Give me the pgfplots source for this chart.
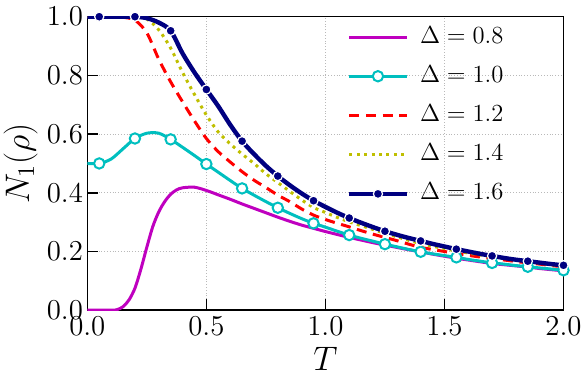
\RequirePackage{fix-cm}
\documentclass[border=0pt]{standalone}
\usepackage{pgfplots}
\usepackage{pgfplotstable}
\pgfplotsset{compat=1.18}

\definecolor{mag}{rgb}{0.75,0,0.75}
\definecolor{cyn}{rgb}{0,0.75,0.75}
\definecolor{ylw}{rgb}{0.75,0.75,0}
\definecolor{nvy}{rgb}{0,0,0.5}

% N_1(rho) against T, one column per Delta
\pgfplotstableread{
T     d10    d12    d14    d16
0.00  0.500  1.000  1.000  1.000
0.05  0.500  1.000  1.000  1.000
0.10  0.515  1.000  1.000  1.000
0.15  0.550  0.998  1.000  1.000
0.20  0.585  0.988  0.999  1.000
0.25  0.603  0.945  0.992  0.995
0.30  0.603  0.855  0.955  0.980
0.35  0.582  0.778  0.893  0.952
0.40  0.555  0.710  0.810  0.875
0.45  0.527  0.645  0.735  0.810
0.50  0.498  0.585  0.665  0.752
0.55  0.470  0.540  0.607  0.695
0.60  0.442  0.505  0.567  0.632
0.65  0.415  0.472  0.532  0.576
0.70  0.392  0.443  0.500  0.532
0.75  0.370  0.418  0.465  0.492
0.80  0.349  0.392  0.435  0.457
0.85  0.330  0.370  0.405  0.426
0.90  0.312  0.345  0.376  0.398
0.95  0.296  0.324  0.350  0.373
1.00  0.283  0.309  0.333  0.352
1.05  0.269  0.296  0.316  0.332
1.10  0.256  0.284  0.301  0.314
1.15  0.245  0.271  0.288  0.298
1.20  0.235  0.259  0.275  0.283
1.25  0.225  0.248  0.262  0.269
1.30  0.216  0.237  0.250  0.257
1.35  0.207  0.225  0.238  0.246
1.40  0.199  0.214  0.227  0.236
1.45  0.192  0.207  0.218  0.226
1.50  0.186  0.200  0.210  0.217
1.55  0.180  0.193  0.202  0.208
1.60  0.173  0.187  0.195  0.200
1.65  0.167  0.181  0.188  0.192
1.70  0.161  0.176  0.182  0.185
1.75  0.157  0.171  0.176  0.178
1.80  0.152  0.166  0.170  0.172
1.85  0.148  0.161  0.165  0.167
1.90  0.144  0.157  0.160  0.162
1.95  0.140  0.152  0.155  0.157
2.00  0.136  0.148  0.150  0.153
}\ntab

\begin{document}
\begin{tikzpicture}
\begin{axis}[
    name=ax,
    scale only axis,
    width=238pt, height=146.7pt,
    xmin=0, xmax=2, ymin=0, ymax=1,
    xtick={0,0.5,1,1.5,2},
    ytick={0,0.2,0.4,0.6,0.8,1},
    tick label style={font=\fontsize{14.4}{16}\selectfont,
        /pgf/number format/fixed, /pgf/number format/fixed zerofill,
        /pgf/number format/precision=1},
    xticklabel style={inner ysep=3.3pt},
    yticklabel style={inner xsep=2pt},
    xlabel={$T$}, ylabel={$N_1(\rho)$},
    xlabel style={font=\fontsize{17}{19}\selectfont,
        at={(axis description cs:0.5,-0.167)}, anchor=center},
    ylabel style={font=\fontsize{17}{19}\selectfont,
        at={(axis description cs:-0.1403,0.5)}, anchor=center},
    tick align=inside, tick pos=left,
    major tick length=5.5pt,
    every tick/.style={black, line width=0.8pt},
    axis line style={line width=0.8pt},
    grid=major,
    grid style={densely dotted, gray!55, line width=0.4pt},
    legend style={draw=none, fill=none, inner sep=0pt,
        at={(0.545,0.973)}, anchor=north west,
        font=\fontsize{12.3}{14}\selectfont,
        nodes={inner sep=0pt, text height=9pt, text depth=3pt},
        row sep=7.6pt,
        /tikz/every odd column/.append style={column sep=5.7pt}},
    legend cell align=left,
    legend image code/.code={\draw[mark repeat=2, mark phase=2]
        plot coordinates {(0pt,0pt) (14.25pt,0pt) (28.5pt,0pt)};},
]
\addplot[mag, line width=1.5pt, smooth] coordinates {
(0,0) (0.1,0) (0.125,0.002) (0.15,0.012) (0.175,0.035) (0.2,0.075)
(0.225,0.14) (0.25,0.215) (0.275,0.285) (0.3,0.335) (0.325,0.37)
(0.35,0.395) (0.375,0.41) (0.4,0.417) (0.45,0.419) (0.5,0.408)
(0.55,0.393) (0.6,0.378) (0.65,0.362) (0.7,0.347) (0.75,0.332)
(0.8,0.317) (0.85,0.303) (0.9,0.29) (0.95,0.279) (1.0,0.268)
(1.05,0.258) (1.1,0.248) (1.15,0.239) (1.2,0.23) (1.25,0.222)
(1.3,0.214) (1.35,0.206) (1.4,0.199) (1.45,0.191) (1.5,0.184)
(1.55,0.177) (1.6,0.171) (1.65,0.165) (1.7,0.159) (1.75,0.155)
(1.8,0.151) (1.85,0.147) (1.9,0.142) (1.95,0.138) (2.0,0.134)};
\addlegendentry{$\Delta=0.8$}
\addplot[cyn, line width=1.5pt, smooth, mark=*, mark size=2.6pt,
    mark repeat=3, mark phase=2,
    mark options={fill=white, draw=cyn, line width=1pt}]
    table[x=T, y=d10] {\ntab};
\addlegendentry{$\Delta=1.0$}
\addplot[red, line width=1.5pt, smooth, dash pattern=on 5pt off 3.3pt]
    table[x=T, y=d12] {\ntab};
\addlegendentry{$\Delta=1.2$}
\addplot[ylw, line width=1.5pt, smooth, dash pattern=on 1.5pt off 2.2pt]
    table[x=T, y=d14] {\ntab};
\addlegendentry{$\Delta=1.4$}
\addplot[nvy, line width=2.2pt, smooth, mark=*, mark size=2.3pt,
    mark repeat=3, mark phase=2,
    mark options={fill=nvy, draw=white, line width=0.6pt}]
    table[x=T, y=d16] {\ntab};
\addlegendentry{$\Delta=1.6$}
\end{axis}
\pgfresetboundingbox
\useasboundingbox ([xshift=-43.65pt,yshift=-39pt]ax.south west)
    rectangle ([xshift=8.75pt,yshift=8.35pt]ax.north east);
\end{tikzpicture}
\end{document}
